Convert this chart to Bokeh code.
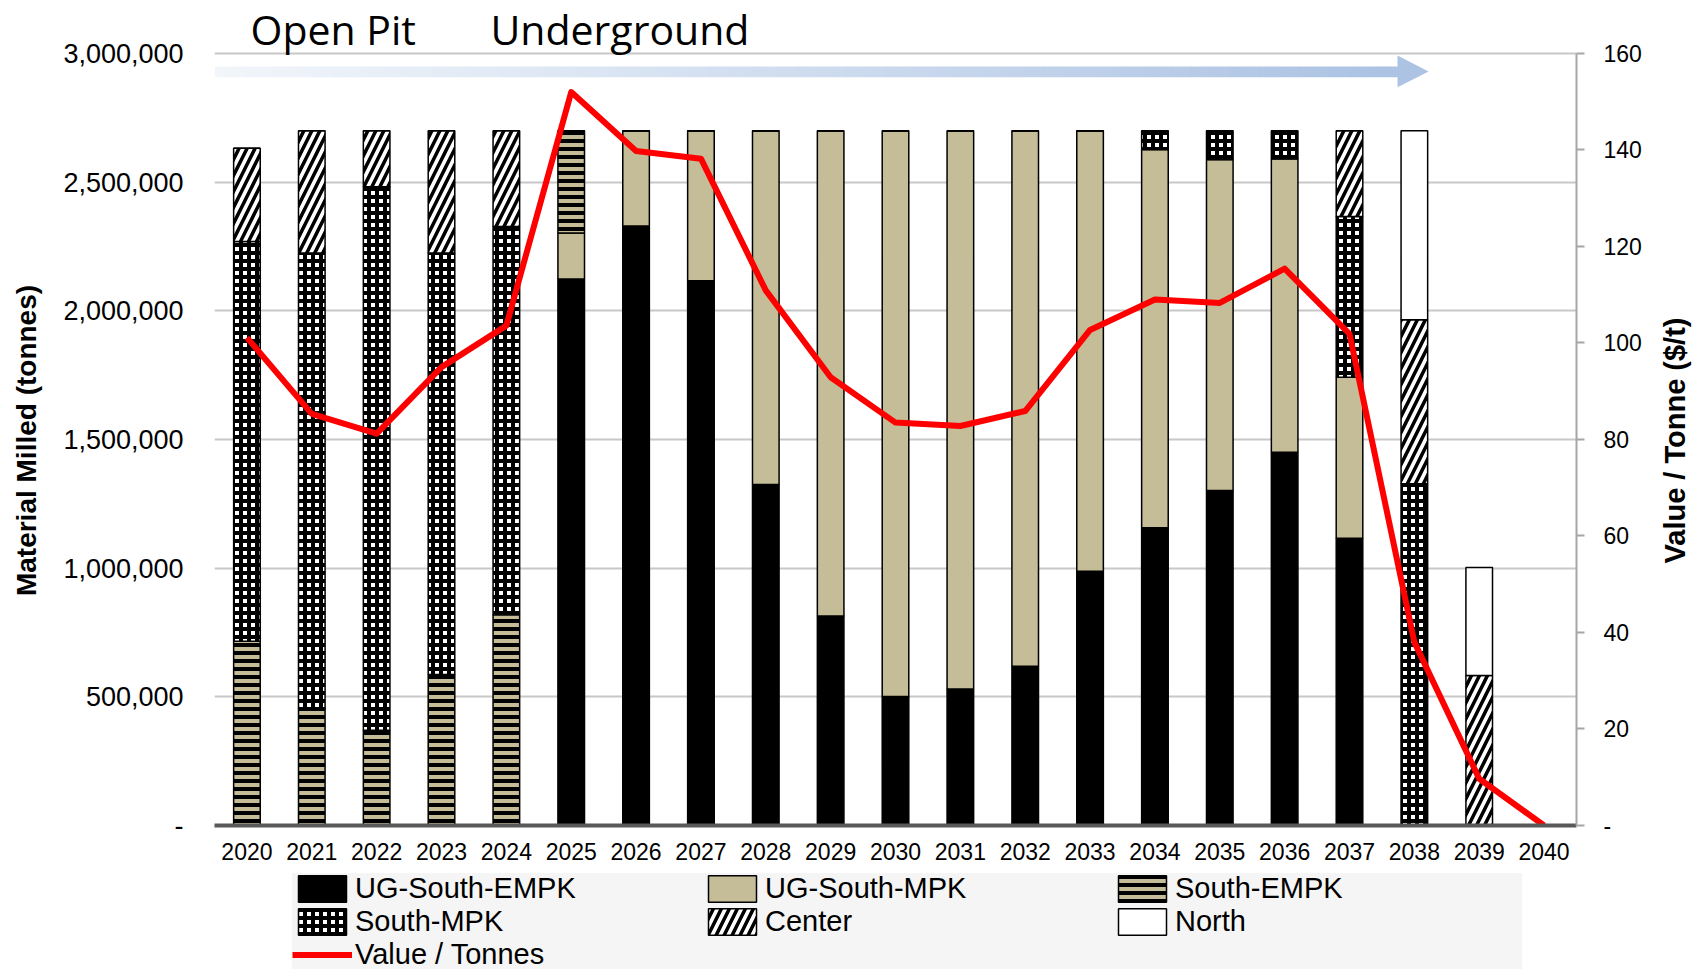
import numpy as np
from math import pi
from bokeh.plotting import figure
from bokeh.layouts import column, row
from bokeh.models import ColumnDataSource, Range1d, LinearAxis, FixedTicker, Label
from bokeh.embed import file_html
from bokeh.resources import INLINE

# ---------------- data ----------------
years = [str(y) for y in range(2020, 2041)]

ug_south_empk = [0, 0, 0, 0, 0, 2124000, 2330000, 2117000, 1325000, 814000, 501000,
                 530000, 619000, 988000, 1157000, 1302000, 1450000, 1116000, 0, 0, 0]
ug_south_mpk = [0, 0, 0, 0, 0, 178000, 370000, 583000, 1375000, 1886000, 2199000,
                2170000, 2081000, 1712000, 1470000, 1286000, 1141000, 626000, 0, 0, 0]
south_empk = [716000, 455000, 370000, 587000, 819000, 398000, 0, 0, 0, 0, 0,
              0, 0, 0, 0, 0, 0, 0, 0, 0, 0]
south_mpk = [1553000, 1770000, 2112000, 1638000, 1509000, 0, 0, 0, 0, 0, 0,
             0, 0, 0, 73000, 112000, 109000, 625000, 1328000, 0, 0]
center = [363000, 475000, 218000, 475000, 372000, 0, 0, 0, 0, 0, 0,
          0, 0, 0, 0, 0, 0, 333000, 637000, 583000, 0]
north = [0, 0, 0, 0, 0, 0, 0, 0, 0, 0, 0,
         0, 0, 0, 0, 0, 0, 0, 735000, 420000, 0]
value_per_tonne = [101.1, 85.3, 81.2, 95.0, 103.6, 152.0, 139.8, 138.2, 110.9, 92.9, 83.5,
                   82.8, 85.9, 102.7, 109.0, 108.3, 115.4, 101.9, 38.0, 9.7, 0.0]

series_keys = ["ug_south_empk", "ug_south_mpk", "south_empk", "south_mpk", "center", "north"]
series_names = ["UG-South-EMPK", "UG-South-MPK", "South-EMPK", "South-MPK", "Center", "North"]
line_name = "Value / Tonnes"

left_ticks = [0, 500000, 1000000, 1500000, 2000000, 2500000, 3000000]
left_tick_labels = ["-", "500,000", "1,000,000", "1,500,000", "2,000,000", "2,500,000", "3,000,000"]
right_ticks = [0, 20, 40, 60, 80, 100, 120, 140, 160]
right_tick_labels = ["-", "20", "40", "60", "80", "100", "120", "140", "160"]

phase_labels = ["Open Pit", "Underground"]
left_title = "Material Milled (tonnes)"
right_title = "Value / Tonne ($/t)"

# ---------------- styles ----------------
FONT = "Liberation Sans"
TAN = "#c4bd97"
bar_fill = ["black", TAN, TAN, "white", "white", "white"]
bar_hatch = [" ", " ", "horizontal_line", "cross", "right_diagonal_line", " "]
bar_hatch_scale = [8, 8, 8, 8, 16, 8]
bar_hatch_weight = [1, 1, 4, 4, 3.5, 1]

W_LEFT = 44
W_RIGHT = 50
W_MAIN = 1606
H_TOTAL = 969
H_MAIN = 873
H_LEG = H_TOTAL - H_MAIN

Y_TOP = 3205958      # head-room above 3,000,000 for the phase captions
R_TOP = 170.98


def bare(fig):
    fig.axis.visible = False
    fig.grid.visible = False
    fig.outline_line_color = None
    return fig


# ---------------- main figure ----------------
x = [i + 0.5 for i in range(len(years))]
src = ColumnDataSource(dict(x=x, ug_south_empk=ug_south_empk, ug_south_mpk=ug_south_mpk,
                            south_empk=south_empk, south_mpk=south_mpk, center=center,
                            north=north, value=value_per_tonne))

p = figure(width=W_MAIN, height=H_MAIN, x_range=Range1d(0, len(years)), y_range=Range1d(0, Y_TOP),
           output_backend="svg", toolbar_location=None,
           min_border_left=170, min_border_right=74, min_border_top=0, min_border_bottom=48)
p.extra_y_ranges = {"right": Range1d(0, R_TOP)}
p.outline_line_color = None
p.background_fill_color = "white"

# gradient arrow (decoration)
n = 120
a_left, a_base, a_tip = 0.0, 18.24, 18.72
edges = np.linspace(a_left, a_base, n + 1)
c0 = np.array([242, 246, 251])
c1 = np.array([172, 195, 228])
cols = []
for t in np.linspace(0, 1, n):
    c = (c0 + (c1 - c0) * t).astype(int)
    cols.append("#%02x%02x%02x" % tuple(c))
p.quad(left=edges[:-1], right=edges[1:] + 0.01, bottom=2908000, top=2949500,
       fill_color=cols, line_color=None)
p.patch(x=[a_base, a_tip, a_base], y=[2992000, 2930000, 2869000],
        fill_color="#adc3e3", line_color=None)

# stacked bars
p.vbar_stack(series_keys, x="x", width=0.41, source=src,
             fill_color=bar_fill, line_color="black", line_width=1.5,
             hatch_pattern=bar_hatch, hatch_color="black",
             hatch_scale=bar_hatch_scale, hatch_weight=bar_hatch_weight)

# line on right axis
p.line(x="x", y="value", source=src, y_range_name="right", line_color="#ff0000",
       line_width=6, line_join="round")

# phase captions
p.add_layout(Label(x=0.555, y=3095000, text=phase_labels[0], text_align="left",
                   text_baseline="alphabetic", text_font="Open Sans", text_font_size="41px",
                   text_color="black"))
p.add_layout(Label(x=4.255, y=3095000, text=phase_labels[1], text_align="left",
                   text_baseline="alphabetic", text_font="Open Sans", text_font_size="41px",
                   text_color="black"))

# axes
xa = p.xaxis[0]
xa.ticker = FixedTicker(ticks=x)
xa.major_label_overrides = {xi: yr for xi, yr in zip(x, years)}
xa.axis_line_color = "#595959"
xa.axis_line_width = 4
xa.major_tick_line_color = None
xa.minor_tick_line_color = None
xa.major_label_text_font = FONT
xa.major_label_text_font_size = "23px"
xa.major_label_text_color = "black"
xa.major_label_standoff = 11

ya = p.yaxis[0]
ya.bounds = (0, 3000000)
ya.ticker = FixedTicker(ticks=left_ticks)
ya.major_label_overrides = {t: l for t, l in zip(left_ticks, left_tick_labels)}
ya.axis_line_color = None
ya.major_tick_line_color = None
ya.minor_tick_line_color = None
ya.major_label_text_font = FONT
ya.major_label_text_font_size = "27px"
ya.major_label_text_color = "black"
ya.major_label_standoff = 25

ra = LinearAxis(y_range_name="right", bounds=(0, 160), ticker=FixedTicker(ticks=right_ticks),
                major_label_overrides={t: l for t, l in zip(right_ticks, right_tick_labels)},
                axis_line_color="#a6a6a6", axis_line_width=2,
                major_tick_line_color="#a6a6a6", major_tick_line_width=2,
                major_tick_out=8, major_tick_in=0, minor_tick_line_color=None,
                major_label_text_font=FONT, major_label_text_font_size="23px",
                major_label_text_color="black", major_label_standoff=19)
p.add_layout(ra, "right")

p.xgrid.grid_line_color = None
p.ygrid.ticker = FixedTicker(ticks=left_ticks)
p.ygrid.grid_line_color = "#c8c8c8"
p.ygrid.grid_line_width = 2

# ---------------- legend strip (below) ----------------
pl = bare(figure(width=W_MAIN, height=H_LEG, x_range=Range1d(0, len(years)), y_range=Range1d(0, 3000000),
                 output_backend="svg", toolbar_location=None,
                 min_border_left=170, min_border_right=74, min_border_top=0, min_border_bottom=0))
series_values = [ug_south_empk, ug_south_mpk, south_empk, south_mpk, center, north]
for i, name in enumerate(series_names):
    r = pl.vbar(x=x, top=series_values[i], width=0.41, fill_color=bar_fill[i], line_color="black",
                line_width=1.5, hatch_pattern=bar_hatch[i], hatch_color="black",
                hatch_scale=bar_hatch_scale[i], hatch_weight=bar_hatch_weight[i],
                legend_label=name)
    r.visible = False
rl = pl.line(x=x, y=value_per_tonne, line_color="#ff0000", line_width=6, legend_label=line_name)
rl.visible = False

lg = pl.legend[0]
lg.orientation = "horizontal"
lg.ncols = 3
lg.location = (78, -2)
lg.padding = 2
lg.spacing = 0
lg.margin = 0
lg.glyph_width = 60
lg.glyph_height = 33
lg.label_standoff = 3
lg.label_width = 347
lg.label_height = 33
lg.label_text_font = FONT
lg.label_text_font_size = "29px"
lg.label_text_color = "black"
lg.background_fill_color = "#f5f5f5"
lg.background_fill_alpha = 1.0
lg.border_line_color = None

# ---------------- axis-title strips ----------------
pleft = bare(figure(width=W_LEFT, height=H_TOTAL, x_range=Range1d(0, W_LEFT), y_range=Range1d(0, H_TOTAL),
                    output_backend="svg", toolbar_location=None,
                    min_border_left=0, min_border_right=0, min_border_top=0, min_border_bottom=0))
pleft.add_layout(Label(x=26, y=H_TOTAL - 440, text=left_title, angle=pi / 2, text_align="center",
                       text_baseline="middle", text_font=FONT, text_font_size="28px",
                       text_font_style="bold", text_color="black"))

pr = bare(figure(width=W_RIGHT, height=H_TOTAL, x_range=Range1d(0, W_RIGHT), y_range=Range1d(0, H_TOTAL),
                 output_backend="svg", toolbar_location=None,
                 min_border_left=0, min_border_right=0, min_border_top=0, min_border_bottom=0))
pr.add_layout(Label(x=24, y=H_TOTAL - 440, text=right_title, angle=pi / 2, text_align="center",
                    text_baseline="middle", text_font=FONT, text_font_size="29px",
                    text_font_style="bold", text_color="black"))

layout = row(pleft, column(p, pl, spacing=0), pr, spacing=0)
open("out.html", "w").write(file_html(layout, INLINE))
